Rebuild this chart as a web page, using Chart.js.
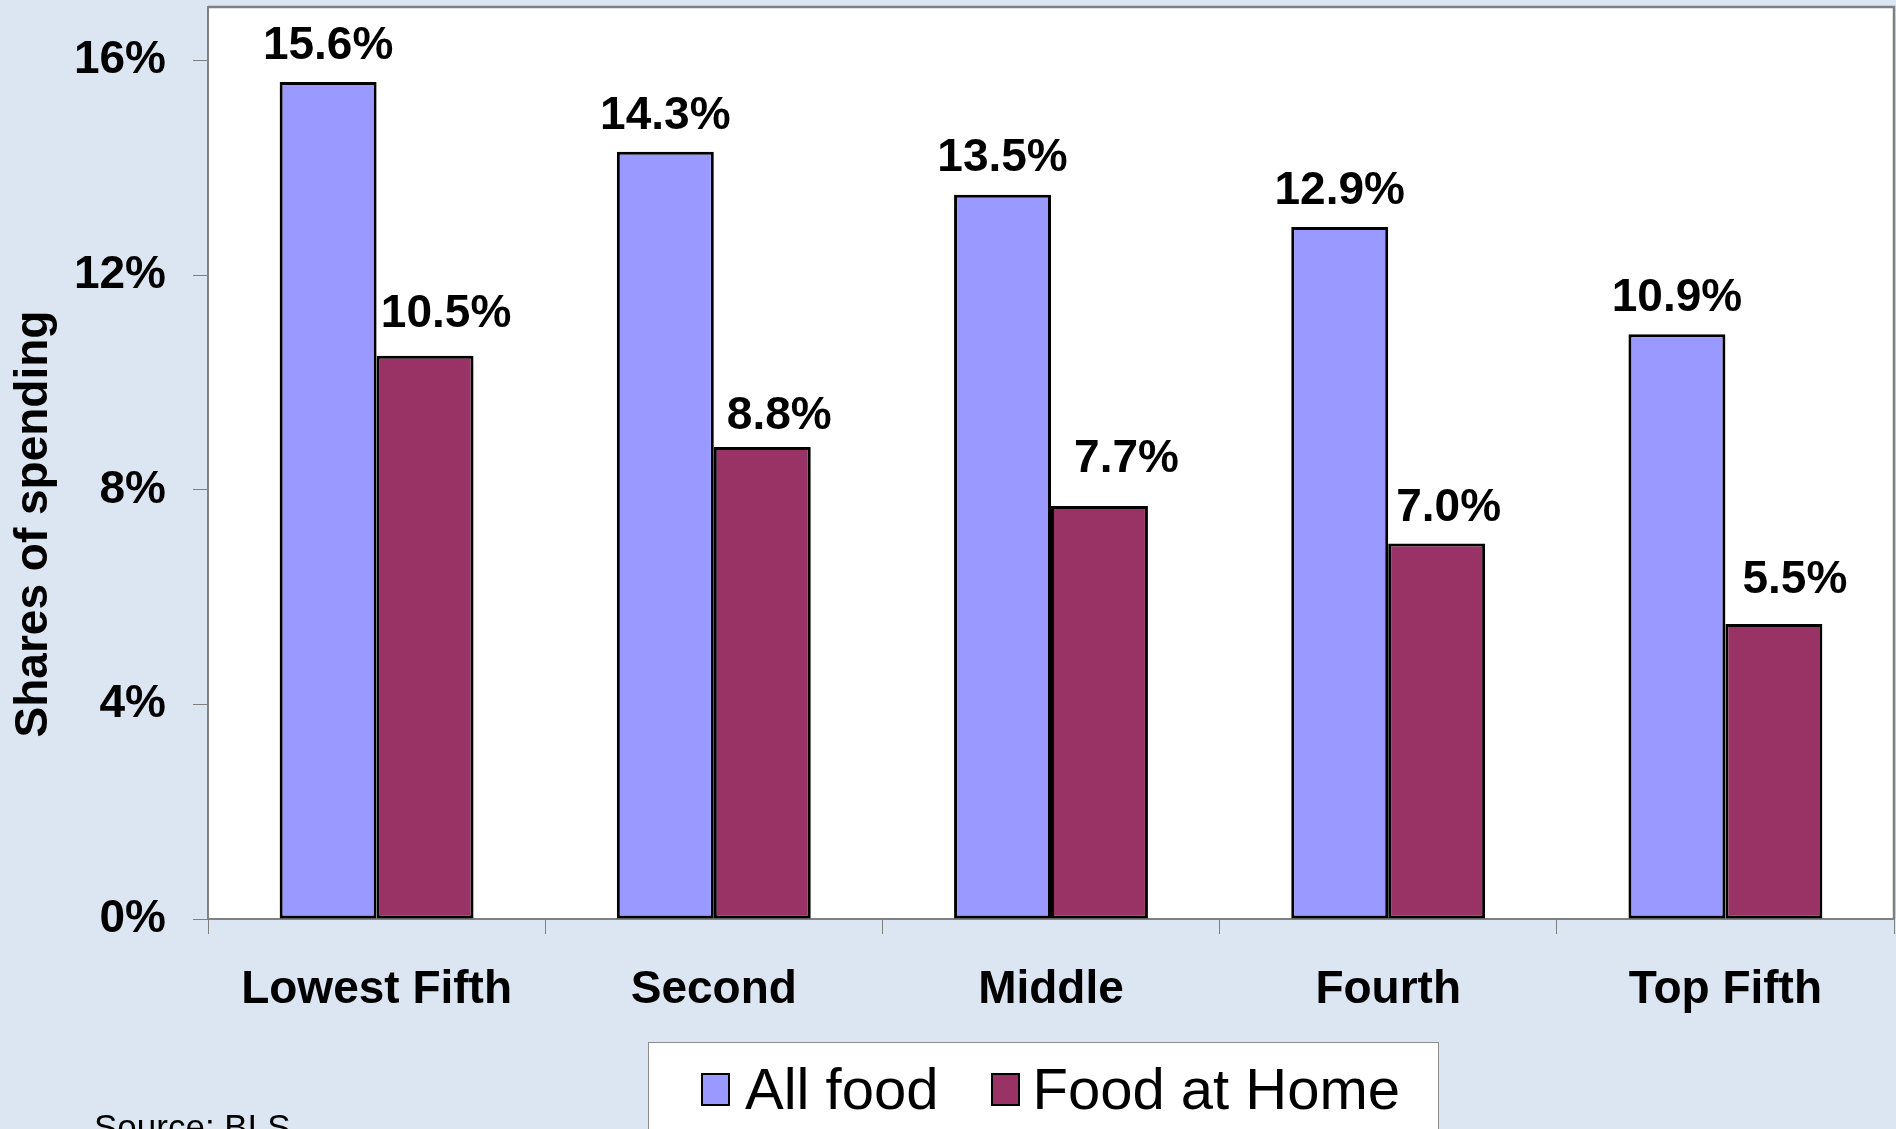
<!DOCTYPE html>
<html>
<head>
<meta charset="utf-8">
<script src="https://cdn.jsdelivr.net/npm/chart.js@4.4.1/dist/chart.umd.min.js"></script>
<style>
  html, body { margin: 0; padding: 0; background: #dce6f2; }
  body { width: 1896px; height: 1129px; position: relative; overflow: hidden;
         font-family: "Liberation Sans", Arial, sans-serif; }
  #chart { position: absolute; left: 0; top: 0; }
  #legend { position: absolute; left: 648px; top: 1042px; width: 789px; height: 120px;
            background: #fff; border: 1px solid #8c8c8c; }
  #legend .row { position: absolute; left: 52px; top: 17px; height: 58px;
                 display: flex; align-items: center; }
  #legend .mk { width: 29px; height: 33px; box-sizing: border-box; border: 2px solid #000; }
  #legend .tx { font-size: 58px; line-height: 58px; color: #000; white-space: nowrap; }
  #source { position: absolute; left: 94px; top: 1109px; font-size: 35px; line-height: 35px; color: #000; }
</style>
</head>
<body>
<canvas id="chart" width="1896" height="1129"></canvas>
<div id="legend"><div class="row"></div></div>
<div id="source">Source: BLS</div>
<script>
// data
const categories = ['Lowest Fifth', 'Second', 'Middle', 'Fourth', 'Top Fifth'];
const allFood = [15.6, 14.3, 13.5, 12.9, 10.9];
const foodAtHome = [10.5, 8.8, 7.7, 7.0, 5.5];
const seriesNames = ['All food', 'Food at Home'];
const yTicks = [0, 4, 8, 12, 16];
const yTitle = 'Shares of spending';

// label nudges (px) so labels sit where the original put them
const labelNudge = [
  [[0, 36], [0, 36], [0, 36], [0, 36], [0, 36]],
  [[21, 41], [17, 31], [27, 47], [12, 35], [21, 44]]
];

const FONT = '"Liberation Sans", Arial, sans-serif';
const AXIS_GREY = '#808080';

const plotFrame = {
  id: 'plotFrame',
  beforeDraw(chart) {
    const { ctx, chartArea: a } = chart;
    ctx.save();
    ctx.fillStyle = '#ffffff';
    ctx.fillRect(a.left, a.top, a.right - a.left, a.bottom - a.top);
    ctx.restore();
  },
  afterDraw(chart) {
    const { ctx, chartArea: a } = chart;
    ctx.save();
    ctx.strokeStyle = AXIS_GREY;
    ctx.lineWidth = 2.5;
    ctx.beginPath();
    ctx.moveTo(a.left, a.top);
    ctx.lineTo(a.right, a.top);
    ctx.lineTo(a.right, a.bottom);
    ctx.stroke();

    // y axis title sits a bit below the middle of the plot in the original
    ctx.font = 'bold 46px ' + FONT;
    ctx.fillStyle = '#000';
    ctx.textAlign = 'center';
    ctx.textBaseline = 'middle';
    ctx.translate(34, 524);
    ctx.rotate(-Math.PI / 2);
    ctx.fillText(yTitle, 0, 0);
    ctx.restore();
  }
};

const valueLabels = {
  id: 'valueLabels',
  afterDatasetsDraw(chart) {
    const { ctx } = chart;
    ctx.save();
    ctx.font = 'bold 46px ' + FONT;
    ctx.fillStyle = '#000';
    ctx.textAlign = 'center';
    ctx.textBaseline = 'middle';
    chart.data.datasets.forEach((ds, di) => {
      chart.getDatasetMeta(di).data.forEach((bar, i) => {
        const [dx, dy] = labelNudge[di][i];
        ctx.fillText(ds.data[i].toFixed(1) + '%', bar.x + dx, bar.y - dy);
      });
    });
    ctx.restore();
  }
};

const chart = new Chart(document.getElementById('chart').getContext('2d'), {
  type: 'bar',
  data: {
    labels: categories,
    datasets: [
      { label: seriesNames[0], data: allFood, backgroundColor: '#9999ff' },
      { label: seriesNames[1], data: foodAtHome, backgroundColor: '#993366' }
    ]
  },
  options: {
    responsive: false,
    animation: false,
    layout: { padding: { top: 7, right: 2, left: 0, bottom: 0 } },
    datasets: {
      bar: {
        borderColor: '#000',
        borderWidth: 3,
        borderSkipped: false,
        categoryPercentage: 0.575,
        barPercentage: 1
      }
    },
    scales: {
      x: {
        grid: { drawOnChartArea: false, offset: true, color: AXIS_GREY, tickLength: 15 },
        border: { color: AXIS_GREY, width: 2 },
        ticks: { color: '#000', padding: 29, font: { family: FONT, size: 46, weight: 'bold' } },
        afterFit(scale) {
          scale.height = 210;
          scale.paddingLeft = 0;
          scale.paddingRight = 0;
        }
      },
      y: {
        min: 0,
        max: 17,
        grid: { drawOnChartArea: false, color: AXIS_GREY, tickLength: 15 },
        border: { color: AXIS_GREY, width: 2 },
        ticks: {
          color: '#000', padding: 27,
          font: { family: FONT, size: 46, weight: 'bold' },
          callback: v => v + '%'
        },
        afterBuildTicks(scale) { scale.ticks = yTicks.map(v => ({ value: v })); },
        afterFit(scale) {
          scale.width = 208;
          scale.paddingTop = 0;
          scale.paddingBottom = 0;
        }
      }
    },
    plugins: {
      legend: { display: false },
      tooltip: { enabled: false }
    }
  },
  plugins: [plotFrame, valueLabels]
});

// legend built from the chart's datasets
const row = document.querySelector('#legend .row');
chart.data.datasets.forEach((ds, i) => {
  const mk = document.createElement('div');
  mk.className = 'mk';
  mk.style.background = ds.backgroundColor;
  mk.style.marginLeft = i === 0 ? '0px' : '53px';
  mk.style.marginRight = i === 0 ? '15px' : '12px';
  const tx = document.createElement('div');
  tx.className = 'tx';
  tx.textContent = ds.label;
  row.appendChild(mk);
  row.appendChild(tx);
});
</script>
</body>
</html>
